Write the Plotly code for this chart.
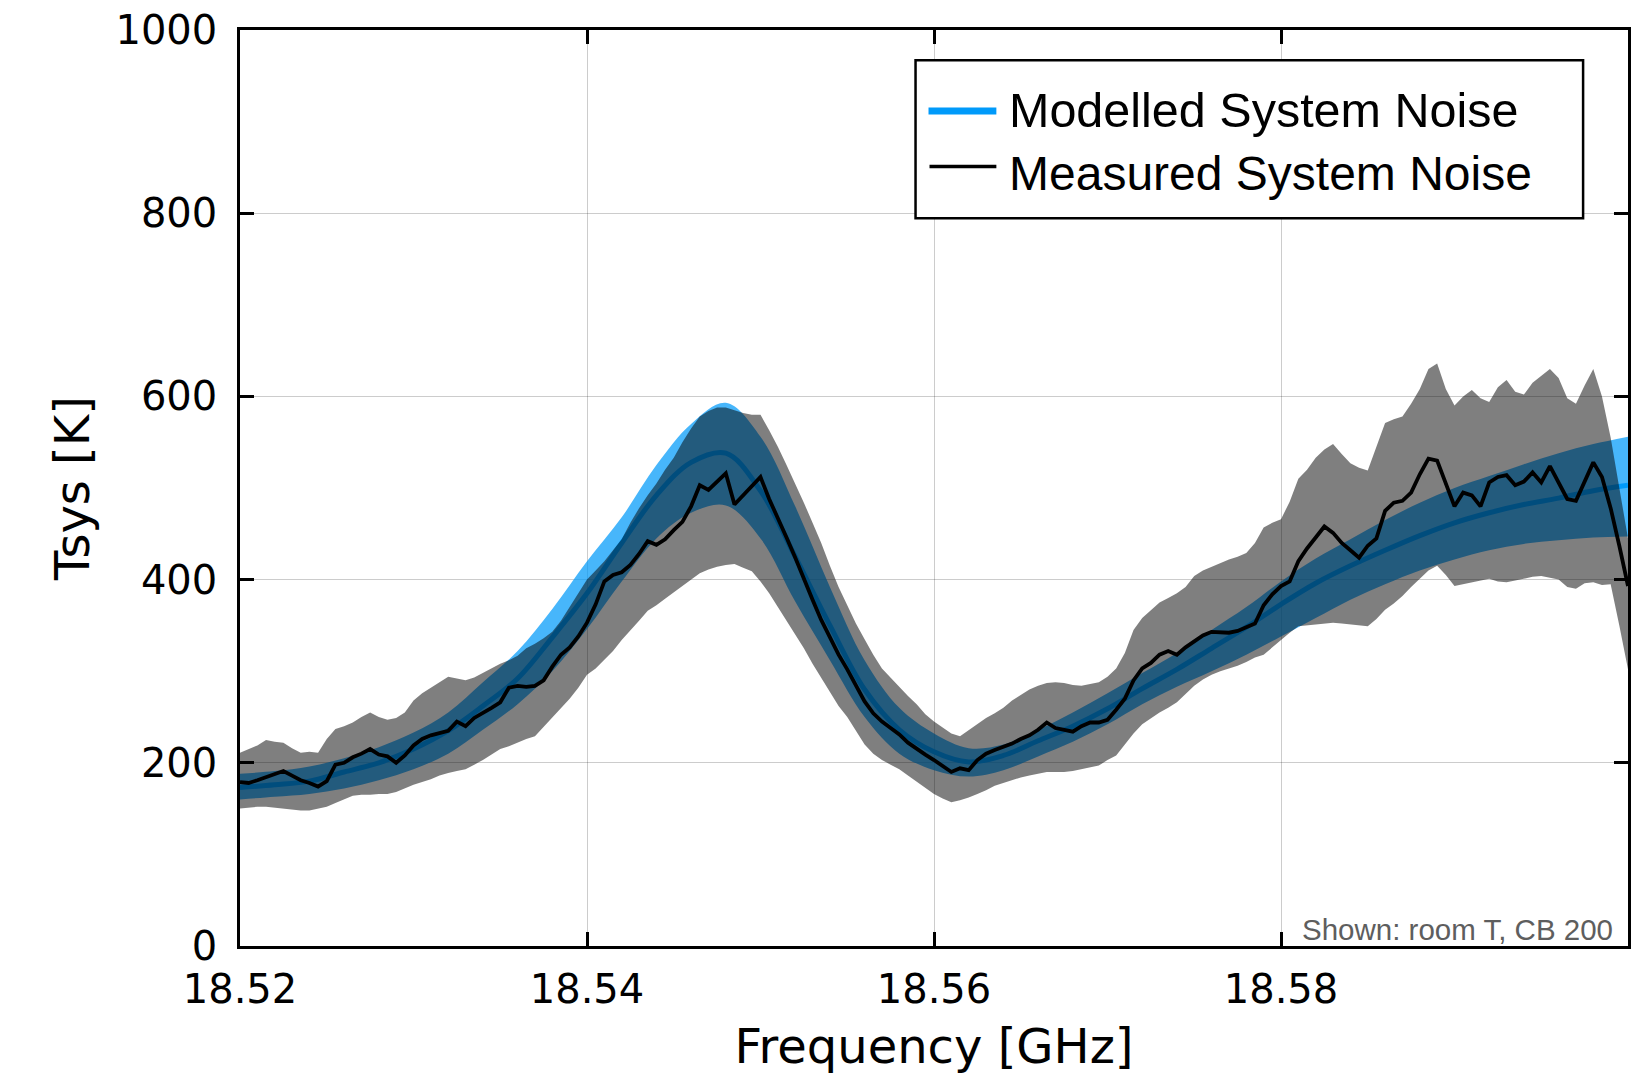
import numpy as np
import plotly.graph_objects as go

# ---- data -----------------------------------------------------------------
# measured spectrum, sampled every 0.5 MHz from 18.520 to 18.600 GHz
meas_start, meas_step = 18.52, 0.0005
measured_tsys = [
    179, 178, 181, 184, 187, 191, 186, 181, 178, 174,
    180, 198, 200, 206, 210, 215, 209, 207, 200, 208,
    219, 226, 230, 233, 235, 245, 240, 249, 254, 260,
    266, 282, 284, 283, 284, 290, 305, 318, 326, 338,
    353, 373, 398, 405, 408, 416, 428, 442, 438, 444,
    454, 463, 480, 503, 498, 507, 516, 482, 492, 501,
    512, 488, 468, 446, 424, 400, 378, 356, 336, 318,
    302, 284, 267, 254, 245, 238, 231, 222, 215, 209,
    203, 196, 190, 194, 192, 203, 210, 214, 217, 221,
    226, 230, 236, 244, 238, 236, 234, 240, 244, 244,
    247, 258, 270, 290, 303, 309, 318, 322, 318, 326,
    333, 339, 343, 343, 342, 344, 348, 352, 372, 384,
    393, 398, 420, 434, 446, 458, 451, 440, 432, 424,
    437, 445, 475, 484, 486, 495, 515, 532, 530, 505,
    480, 495, 492, 480, 506, 512, 514, 503, 507, 517,
    506, 524, 506, 488, 486, 506, 528, 512, 478, 437,
    393,
]
measured_upper = [
    211, 215, 219, 225, 223, 222, 216, 211, 212, 211,
    226, 237, 240, 244, 250, 255, 250, 247, 249, 255,
    268, 276, 282, 288, 294, 292, 290, 293, 298, 303,
    308, 312, 317, 325, 330, 336, 343, 355, 370, 385,
    400, 410, 420, 432, 444, 462, 478, 492, 505, 520,
    533, 550, 565, 578, 584, 588, 588, 585, 582, 580,
    580, 563, 545, 525, 505, 484, 462, 440, 415, 392,
    372, 352, 335, 318, 303, 293, 282, 273, 264, 253,
    245, 238, 232, 229, 236, 242, 249, 254, 260, 268,
    274, 280, 284, 287, 288, 287, 285, 284, 286, 288,
    294, 303, 320, 345, 358, 366, 375, 380, 385, 392,
    404, 410, 414, 418, 422, 425, 429, 440, 457, 462,
    466, 485, 510, 520, 533, 542, 548, 537, 527, 522,
    519, 545, 571, 575, 578, 592, 608, 630, 636, 608,
    590, 600, 607, 598, 594, 610, 618, 605, 602, 615,
    622, 630, 620, 598, 592, 612, 630, 600, 555, 500,
    445,
]
measured_lower = [
    150, 151, 152, 152, 151, 150, 149, 148, 148, 150,
    152, 156, 160, 164, 165, 165, 166, 166, 168, 172,
    176, 179, 182, 186, 189, 191, 193, 198, 203, 209,
    215, 218, 222, 226, 229, 239, 249, 260, 270, 282,
    296, 303, 313, 322, 334, 344, 355, 366, 372, 379,
    386, 392, 400, 407, 411, 414, 416, 417, 413, 409,
    398, 385, 370, 355, 340, 325, 308, 293, 278, 262,
    250, 235, 220, 210, 203, 198, 193, 186, 179, 172,
    166, 161, 157, 159, 162, 166, 170, 175, 178, 181,
    184, 186, 188, 190, 190, 190, 191, 193, 195, 197,
    203, 208, 220, 232, 242, 249, 255, 260, 266, 275,
    284, 291, 296, 300, 303, 306, 310, 315, 318, 326,
    335, 342, 349, 350, 351, 352, 353, 352, 351, 350,
    349, 357, 367, 374, 382, 392, 401, 410, 415, 405,
    393, 395, 397, 399, 401, 398, 397, 399, 401, 403,
    404, 402, 400, 392, 390, 396, 397, 394, 395, 350,
    302,
]

# model, sampled every 2 MHz
model_start, model_step = 18.52, 0.002
model_tsys = [
    173, 176, 180, 190, 200, 215, 235, 262, 292, 337,
    385, 440, 492, 528, 538, 497, 425, 350, 280, 236,
    212, 201, 208, 224, 240, 259, 281, 302, 325, 348,
    373, 396, 415, 432, 448, 462, 473, 482, 489, 497,
    503,
]
model_upper = [
    188, 191, 196, 205, 217, 233, 255, 288, 322, 368,
    420, 468, 525, 570, 593, 556, 480, 392, 312, 260,
    232, 216, 220, 236, 255, 276, 298, 320, 345, 370,
    398, 423, 444, 465, 484, 500, 513, 526, 538, 548,
    556,
]
model_lower = [
    160, 163, 166, 172, 181, 193, 210, 236, 264, 300,
    346, 398, 445, 473, 481, 445, 376, 312, 250, 210,
    192, 185, 192, 207, 223, 242, 264, 283, 300, 318,
    338, 358, 378, 395, 410, 422, 432, 439, 443, 446,
    447,
]

x_ticks = [18.52, 18.54, 18.56, 18.58]
x_tick_text = ["18.52", "18.54", "18.56", "18.58"]
y_ticks = [0, 200, 400, 600, 800, 1000]

meas_freq = np.round(meas_start + meas_step * np.arange(len(measured_tsys)), 4)
model_freq = np.round(model_start + model_step * np.arange(len(model_tsys)), 3)

# ---- styling --------------------------------------------------------------
W, H = 1634, 1074
L, R, T, B = 240, 1631, 29.5, 951.5          # plot-area edges in pixels
BLUE = "#009AFA"
TICK_FONT = dict(family="DejaVu Sans", size=40, color="black")
TITLE_FONT = dict(family="DejaVu Sans", size=48, color="black")
LEG_FONT = dict(family="Liberation Sans", size=48, color="black")


def px_x(p):
    return (p - L) / (R - L)


def px_y(p):
    return (B - p) / (B - T)


fig = go.Figure()

# modelled band + curve
fig.add_trace(go.Scatter(x=model_freq, y=model_lower, mode="lines",
                         line=dict(width=0, shape="spline"), hoverinfo="skip",
                         showlegend=False))
fig.add_trace(go.Scatter(x=model_freq, y=model_upper, mode="lines",
                         line=dict(width=0, shape="spline"), fill="tonexty",
                         fillcolor="rgba(0,154,250,0.72)", hoverinfo="skip",
                         showlegend=False))
fig.add_trace(go.Scatter(x=model_freq, y=model_tsys, mode="lines",
                         line=dict(color=BLUE, width=5, shape="spline"),
                         name="Modelled System Noise", showlegend=False))

# measured uncertainty band (semi-transparent black) + measured curve
fig.add_trace(go.Scatter(x=meas_freq, y=measured_lower, mode="lines",
                         line=dict(width=0), hoverinfo="skip", showlegend=False))
fig.add_trace(go.Scatter(x=meas_freq, y=measured_upper, mode="lines",
                         line=dict(width=0), fill="tonexty",
                         fillcolor="rgba(0,0,0,0.5)", hoverinfo="skip",
                         showlegend=False))
fig.add_trace(go.Scatter(x=meas_freq, y=measured_tsys, mode="lines",
                         line=dict(color="black", width=3.8),
                         name="Measured System Noise", showlegend=False))

axis_common = dict(
    showline=True, linecolor="black", linewidth=2.5, mirror="all",
    ticks="inside", ticklen=14, tickwidth=2.5, tickcolor="black",
    showgrid=True, gridcolor="rgba(0,0,0,0.2)", gridwidth=1.2,
    zeroline=False, tickfont=TICK_FONT,
)

fig.update_xaxes(range=[18.52, 18.60], tickvals=x_ticks, ticktext=x_tick_text,
                 title=dict(text="Frequency [GHz]", font=TITLE_FONT, standoff=26),
                 ticklabelstandoff=6, **axis_common)
fig.update_yaxes(range=[0, 1000], tickvals=y_ticks,
                 title=dict(text="Tsys [K]", font=TITLE_FONT, standoff=11),
                 ticklabelstandoff=12, **axis_common)

# legend box drawn by hand so the line samples are long
shapes = [
    dict(type="rect", xref="paper", yref="paper",
         x0=px_x(917), x1=px_x(1586), y0=px_y(219), y1=px_y(60),
         line=dict(color="black", width=2.5), fillcolor="white", layer="above"),
    dict(type="line", xref="paper", yref="paper",
         x0=px_x(930), x1=px_x(998), y0=px_y(111), y1=px_y(111),
         line=dict(color=BLUE, width=7), layer="above"),
    dict(type="line", xref="paper", yref="paper",
         x0=px_x(931), x1=px_x(998), y0=px_y(167), y1=px_y(167),
         line=dict(color="black", width=3.5), layer="above"),
]
annotations = [
    dict(xref="paper", yref="paper", x=px_x(1009), y=px_y(110),
         xanchor="left", yanchor="middle", showarrow=False,
         text="Modelled System Noise", font=dict(LEG_FONT, size=48.5)),
    dict(xref="paper", yref="paper", x=px_x(1009), y=px_y(174),
         xanchor="left", yanchor="middle", showarrow=False,
         text="Measured System Noise", font=LEG_FONT),
    dict(xref="paper", yref="paper", x=px_x(1618), y=px_y(935),
         xanchor="right", yanchor="middle", showarrow=False,
         text="Shown: room T, CB 200",
         font=dict(family="Liberation Sans", size=29.5, color="#5e5e5e")),
]

fig.update_layout(
    width=W, height=H, autosize=False,
    margin=dict(l=L, r=W - R, t=T, b=H - B, pad=0),
    paper_bgcolor="white", plot_bgcolor="white",
    shapes=shapes, annotations=annotations, showlegend=False,
)

fig.write_html("out.html")
